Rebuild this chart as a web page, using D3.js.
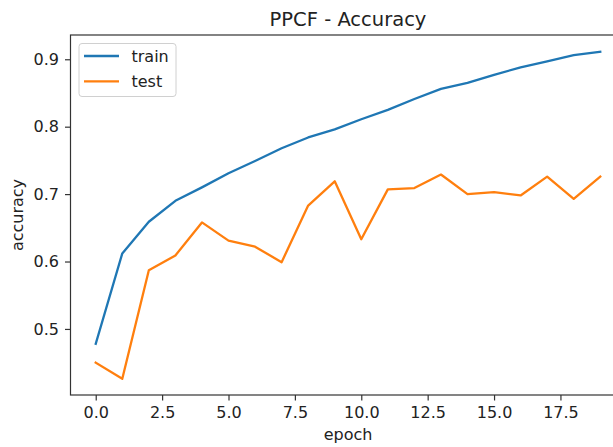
<!DOCTYPE html>
<html>
<head>
<meta charset="utf-8">
<script src="https://cdn.jsdelivr.net/npm/d3@7"></script>
<style>
  html, body { margin: 0; padding: 0; background: #fff; }
  svg { display: block; font-family: "DejaVu Sans", sans-serif; }
</style>
</head>
<body>
<svg id="chart" width="613" height="447"></svg>
<script>
const epochs = d3.range(0, 20);
const trainAcc = [0.478, 0.612, 0.659, 0.690, 0.710, 0.731, 0.749, 0.768, 0.784, 0.796,
                  0.811, 0.825, 0.841, 0.856, 0.865, 0.877, 0.888, 0.897, 0.906, 0.911];
const testAcc  = [0.450, 0.426, 0.587, 0.609, 0.658, 0.631, 0.622, 0.599, 0.683, 0.719,
                  0.633, 0.707, 0.709, 0.729, 0.700, 0.703, 0.698, 0.726, 0.693, 0.726];
const xTicks = [0, 2.5, 5, 7.5, 10, 12.5, 15, 17.5];
const yTicks = [0.5, 0.6, 0.7, 0.8, 0.9];
const seriesNames = ["train", "test"];
const seriesColors = ["#1f77b4", "#ff7f0e"];
const titleText = "PPCF - Accuracy";
const xLabel = "epoch";
const yLabel = "accuracy";

const svg = d3.select("#chart");
const L = 70.5, R = 625.5, T = 35, B = 395;

const x = d3.scaleLinear().domain([-0.95, 19.95]).range([L, R]);
const y = d3.scaleLinear().domain([0.402, 0.936]).range([B, T]);

// Lines
const line = d3.line().x((d, i) => x(epochs[i])).y(d => y(d));
[trainAcc, testAcc].forEach((s, k) => {
  svg.append("path")
    .datum(s)
    .attr("d", line)
    .attr("fill", "none")
    .attr("stroke", seriesColors[k])
    .attr("stroke-width", 2.3)
    .attr("stroke-linejoin", "round")
    .attr("stroke-linecap", "square");
});

// Axes
const xAxis = d3.axisBottom(x).tickValues(xTicks).tickFormat(d3.format(".1f"))
  .tickSize(5.5).tickPadding(6);
const yAxis = d3.axisLeft(y).tickValues(yTicks).tickFormat(d3.format(".1f"))
  .tickSize(5.5).tickPadding(6);

const gx = svg.append("g").attr("transform", `translate(0,${B})`).call(xAxis);
const gy = svg.append("g").attr("transform", `translate(${L},0)`).call(yAxis);
[gx, gy].forEach(g => {
  g.select(".domain").remove();
  g.selectAll(".tick line").attr("stroke", "#333").attr("stroke-width", 1.2);
  g.selectAll(".tick text").attr("fill", "#222").style("font-size", "16px")
    .style("font-family", "DejaVu Sans, sans-serif");
});

// Spines
svg.append("rect")
  .attr("x", L).attr("y", T).attr("width", R - L).attr("height", B - T)
  .attr("fill", "none").attr("stroke", "#333").attr("stroke-width", 1.2);

// Title
svg.append("text").attr("x", (L + R) / 2).attr("y", 25.5)
  .attr("text-anchor", "middle").attr("fill", "#222")
  .style("font-size", "19.5px").text(titleText);

// Axis labels
svg.append("text").attr("x", (L + R) / 2).attr("y", 440)
  .attr("text-anchor", "middle").attr("fill", "#222")
  .style("font-size", "16px").text(xLabel);
svg.append("text")
  .attr("transform", `translate(23,${(T + B) / 2}) rotate(-90)`)
  .attr("text-anchor", "middle").attr("fill", "#222")
  .style("font-size", "16px").text(yLabel);

// Legend
const lg = svg.append("g");
lg.append("rect").attr("x", 79).attr("y", 43.5).attr("width", 97).attr("height", 53)
  .attr("rx", 3).attr("fill", "#fff").attr("fill-opacity", 0.8)
  .attr("stroke", "#d0d0d0").attr("stroke-width", 1);
seriesNames.forEach((n, i) => {
  const yy = 56 + i * 25.3;
  lg.append("line").attr("x1", 84).attr("x2", 119).attr("y1", yy).attr("y2", yy)
    .attr("stroke", seriesColors[i]).attr("stroke-width", 2.3);
  lg.append("text").attr("x", 131.5).attr("y", yy + 5.8).attr("fill", "#222")
    .style("font-size", "16px").text(n);
});
</script>
</body>
</html>
